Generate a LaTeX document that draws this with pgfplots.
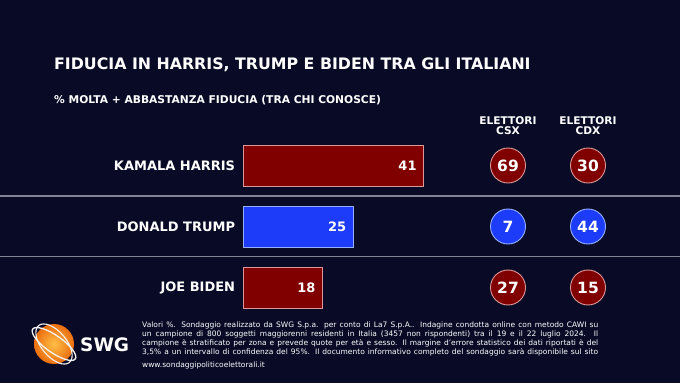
\documentclass[border=0pt]{standalone}
\usepackage{fontspec}
\setmainfont{DejaVu Sans}
\usepackage{pgfplots}
\pgfplotsset{compat=1.18}
\definecolor{bg}{RGB}{9,11,38}
\definecolor{swgred}{RGB}{128,0,0}
\definecolor{redborder}{RGB}{220,150,150}
\definecolor{swgblue}{RGB}{28,60,250}
\definecolor{blueborder}{RGB}{150,175,255}
\definecolor{sepgray}{RGB}{130,132,150}
\begin{document}
\begin{tikzpicture}[x=1pt,y=1pt]
\fill[bg] (0,0) rectangle (680,383);
\useasboundingbox (0,0) rectangle (680,383);
% separators
\draw[sepgray, line width=1.3pt] (0,187) -- (680,187);
\draw[sepgray, line width=1.3pt] (0,126.3) -- (680,126.3);
% titles
\node[anchor=base west, inner sep=0pt, text=white, font=\fontsize{15.8}{16}\selectfont\bfseries] at (54,313) {FIDUCIA IN HARRIS, TRUMP E BIDEN TRA GLI ITALIANI};
\node[anchor=base west, inner sep=0pt, text=white, font=\fontsize{10.7}{11}\selectfont\bfseries] at (54,279) {\% MOLTA + ABBASTANZA FIDUCIA (TRA CHI CONOSCE)};
% bars
\begin{axis}[
  at={(243.3pt,65pt)}, anchor=south west, scale only axis,
  width=180.4pt, height=183pt,
  xmin=0, xmax=41, ymin=-0.5, ymax=2.5,
  clip=false,
  axis line style={draw=none},
  major tick length=0pt,
  xtick=\empty,
  ytick={0,1,2},
  yticklabels={JOE BIDEN,DONALD TRUMP,KAMALA HARRIS},
  yticklabel style={text=white, font=\fontsize{13}{13}\selectfont\bfseries, inner sep=0pt, xshift=-8pt},
  xbar, bar width=41pt, bar shift=0pt,
  /pgf/number format/assume math mode=true,
  nodes near coords,
  nodes near coords style={anchor=east, inner sep=0pt, xshift=-6.7pt, text=white, font=\fontsize{13}{13}\selectfont\bfseries},
]
\addplot[fill=swgred, draw=redborder, line width=0.9pt] coordinates {(41,2)};
\addplot[fill=swgblue, draw=blueborder, line width=0.9pt] coordinates {(25,1)};
\addplot[fill=swgred, draw=redborder, line width=0.9pt] coordinates {(18,0)};
\end{axis}
% circles
\begin{axis}[
  at={(508pt,65pt)}, anchor=south west, scale only axis,
  width=80pt, height=183pt,
  xmin=0, xmax=1, ymin=-0.5, ymax=2.5,
  clip=false,
  axis line style={draw=none},
  major tick length=0pt,
  ytick=\empty,
  xtick={0,1},
  xticklabels={ELETTORI\\CSX,ELETTORI\\CDX},
  xticklabel pos=upper,
  xticklabel style={align=center, text=white, font=\fontsize{10.6}{9.7}\selectfont\bfseries, inner sep=0pt, yshift=0pt},
  /pgf/number format/assume math mode=true,
  nodes near coords,
  every node near coord/.append style={anchor=center, inner sep=0pt, text=white, font=\fontsize{15.5}{15.5}\selectfont\bfseries},
  point meta=explicit,
]
\addplot[only marks, mark=*, mark size=17.5pt, mark options={fill=swgred, draw=redborder, line width=0.9pt}] table[x=x, y=y, meta=v] {
x y v
0 2 69
1 2 30
0 0 27
1 0 15
};
\addplot[only marks, mark=*, mark size=17.5pt, mark options={fill=swgblue, draw=blueborder, line width=0.9pt}] table[x=x, y=y, meta=v] {
x y v
0 1 7
1 1 44
};
\end{axis}
% logo
\shade[inner color={rgb,255:red,255;green,190;blue,70}, outer color={rgb,255:red,235;green,110;blue,15}] (54,39) circle (20);
\draw[white!90!gray, line width=1.3pt, rotate around={-35:(54,39)}] (54,39) ellipse (26 and 8.5);
\draw[white!90!gray, line width=1.1pt, rotate around={-50:(54,39)}] (54,39) ellipse (24 and 12.5);
\node[anchor=base west, inner sep=0pt, text=white, font=\fontsize{18.5}{18.5}\selectfont\bfseries] at (80,31) {SWG};
% footer
\node[anchor=north west, inner sep=0pt, text=white, text width=456pt, align=justify, font=\fontsize{7.5}{9}\selectfont] at (142,61.6) {\parfillskip=0pt Valori \%. Sondaggio realizzato da SWG S.p.a. per conto di La7 S.p.A.. Indagine condotta online con metodo CAWI su\linebreak un campione di 800 soggetti maggiorenni residenti in Italia (3457 non rispondenti) tra il 19 e il 22 luglio 2024. Il\linebreak campione è stratificato per zona e prevede quote per età e sesso. Il margine d’errore statistico dei dati riportati è del\linebreak 3,5\% a un intervallo di confidenza del 95\%. Il documento informativo completo del sondaggio sarà disponibile sul sito\par
\parfillskip=0pt plus 1fil\vspace{4pt}www.sondaggipoliticoelettorali.it};
\end{tikzpicture}
\end{document}
